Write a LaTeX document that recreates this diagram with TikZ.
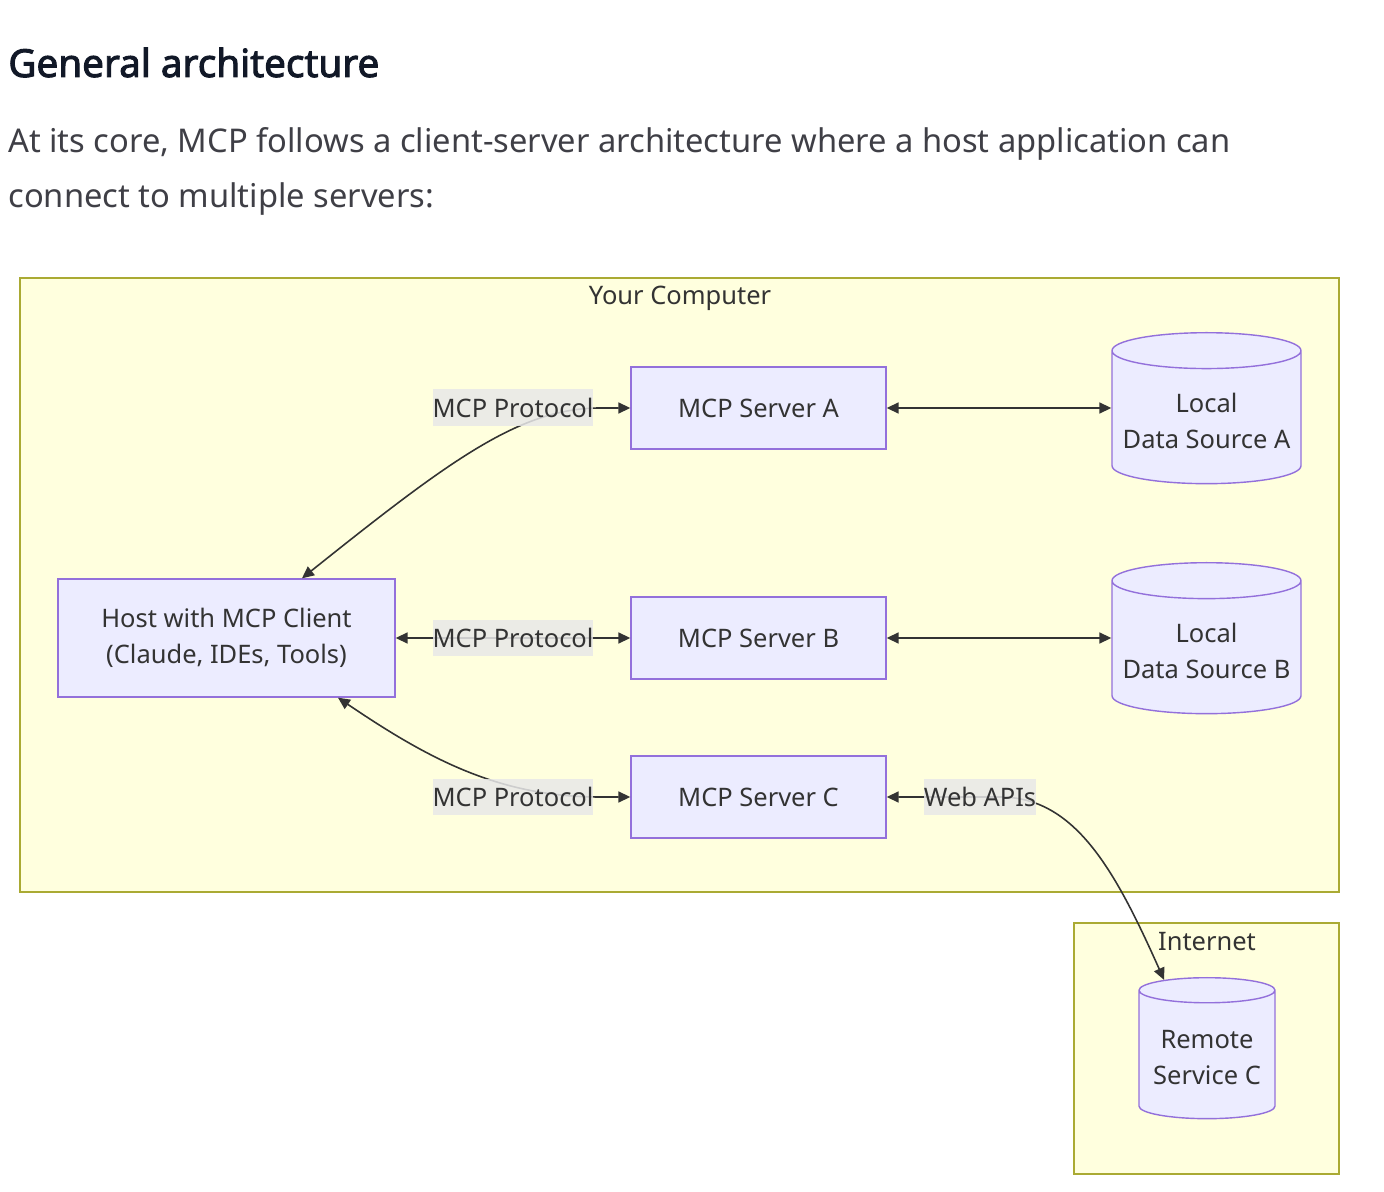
\documentclass[tikz,border=0pt]{standalone}
\usepackage{fontspec}
\setmainfont{Noto Sans}
\newfontfamily\headfont[FakeBold=2.4]{Noto Sans}
\usetikzlibrary{shapes.geometric,arrows.meta}
\definecolor{clusterfill}{HTML}{FFFFDE}
\definecolor{clusterline}{HTML}{AAAA33}
\definecolor{boxfill}{HTML}{ECECFF}
\definecolor{boxline}{HTML}{9370DB}
\definecolor{ink}{HTML}{333333}
\definecolor{lblfill}{HTML}{E8E8E8}
\definecolor{titleink}{HTML}{111827}
\definecolor{bodyink}{HTML}{3F3F46}
\tikzset{
  cluster/.style={draw=clusterline, fill=clusterfill, line width=0.8pt},
  box/.style={rectangle, draw=boxline, fill=boxfill, line width=0.8pt, text=ink, align=center},
  store/.style={cylinder, shape border rotate=90, aspect=0.2, anchor=north, draw=boxline, fill=boxfill, line width=0.8pt, text=ink, align=center},
  conn/.style={draw=ink, line width=0.9pt, {Triangle[length=0.24cm,width=0.22cm]}-{Triangle[length=0.24cm,width=0.22cm]}},
  lbl/.style={fill=lblfill, fill opacity=0.85, text opacity=1, text=ink, inner xsep=0pt, minimum height=0.74cm},
  intro/.style={anchor=base west, inner sep=0pt, text=bodyink, font=\fontsize{18.6}{24}\selectfont}
}
\begin{document}
\begin{tikzpicture}[x=0.02cm, y=-0.02cm, font=\fontsize{14.5}{20.5}\selectfont]
\useasboundingbox[fill=white] (0,0) rectangle (1384,1192);
% heading and text
\node[anchor=base west, inner sep=0pt, text=titleink, font=\fontsize{22}{26}\headfont] (title) at (8,77) {General architecture};
\node[intro] (intro1) at (8,153) {At its core, MCP follows a client-server architecture where a host application can};
\node[intro] (intro2) at (8,208) {connect to multiple servers:};
% clusters
\draw[cluster] (20,278) rectangle (1339,892);
\node[text=ink] (yourpc) at (680,298) {Your Computer};
\draw[cluster] (1074,923) rectangle (1339,1174);
\node[text=ink] (internet) at (1207,942) {Internet};
% nodes
\node[box, minimum width=6.74cm, minimum height=2.36cm] (host) at (226.5,638) {Host with MCP Client\\(Claude, IDEs, Tools)};
\node[box, minimum width=5.1cm, minimum height=1.64cm] (srvA) at (758.5,408) {MCP Server A};
\node[box, minimum width=5.1cm, minimum height=1.64cm] (srvB) at (758.5,638) {MCP Server B};
\node[box, minimum width=5.1cm, minimum height=1.64cm] (srvC) at (758.5,797) {MCP Server C};
\node[store, minimum width=3.78cm, minimum height=3.02cm] (dsA) at (1206.5,332) {Local\\Data Source A};
\node[store, minimum width=3.78cm, minimum height=3.02cm] (dsB) at (1206.5,562) {Local\\Data Source B};
\node[store, aspect=0.21, minimum width=2.72cm, minimum height=2.82cm] (remC) at (1207,977) {Remote\\Service C};
% connectors
\draw[conn] ([xshift=1.51cm]host.north) .. controls (450,460) and (520,408) .. (600,408) -- (srvA.west);
\draw[conn] (host.east) -- (srvB.west);
\draw[conn] ([xshift=2.23cm]host.south) .. controls (430,760) and (500,797) .. (600,797) -- (srvC.west);
\draw[conn] (srvA.east) -- (srvA.east -| dsA.west);
\draw[conn] (srvB.east) -- (srvB.east -| dsB.west);
\draw[conn] (srvC.east) -- (1000,797) .. controls (1075,797) and (1115,870) .. (remC.119);
% edge labels
\node[lbl] (lblA) at (513,408) {MCP Protocol};
\node[lbl] (lblB) at (513,638) {MCP Protocol};
\node[lbl] (lblC) at (513,797) {MCP Protocol};
\node[lbl] (lblW) at (980,797) {Web APIs};
\end{tikzpicture}
\end{document}
